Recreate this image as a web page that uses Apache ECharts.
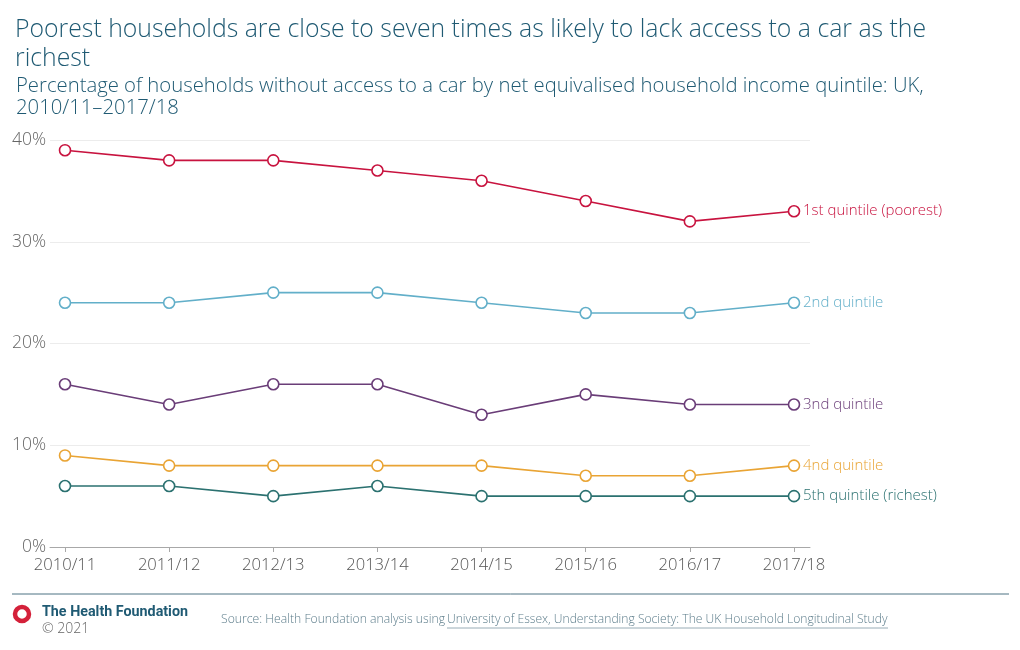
<!DOCTYPE html>
<html>
<head>
<meta charset="utf-8">
<script src="https://cdn.jsdelivr.net/npm/echarts@6/dist/echarts.min.js"></script>
<style>html,body{margin:0;padding:0;background:#fff;}#c{width:1020px;height:650px;}</style>
</head>
<body>
<div id="c"></div>
<script>
const categories = ['2010/11','2011/12','2012/13','2013/14','2014/15','2015/16','2016/17','2017/18'];
const q1 = [39,38,38,37,36,34,32,33];
const q2 = [24,24,25,25,24,23,23,24];
const q3 = [16,14,16,16,13,15,14,14];
const q4 = [9,8,8,8,8,7,7,8];
const q5 = [6,6,5,6,5,5,5,5];
const seriesNames = ['1st quintile (poorest)','2nd quintile','3nd quintile','4nd quintile','5th quintile (richest)'];
const seriesColors = ['#c8133f','#62afc9','#6a3d78','#e9a434','#2b7170'];
const yTicks = [0,10,20,30,40];

const FONT = '"Open Sans", Roboto, "Liberation Sans", sans-serif';
const chart = echarts.init(document.getElementById('c'), null, {renderer:'canvas'});
const data = [q1,q2,q3,q4,q5];
const series = data.map((d,i)=>({
  name: seriesNames[i], type:'line', xAxisIndex:1, yAxisIndex:1, data:d,
  symbol:'circle', symbolSize:11,
  itemStyle:{color:'#fff', borderColor:seriesColors[i], borderWidth:1.6},
  lineStyle:{color:seriesColors[i], width:1.6},
  endLabel:{show:true, formatter:'{a}', color:seriesColors[i], fontSize:15, fontWeight:300, fontFamily:FONT, distance:9},
  animation:false
}));
chart.setOption({
  backgroundColor:'#fff',
  animation:false,
  title:[
    {text:'Poorest households are close to seven times as likely to lack access to a car as the\nrichest', left:10, top:10,
     textStyle:{fontSize:24.8, fontWeight:300, color:'#1f5a73', fontFamily:FONT, lineHeight:29}},
    {text:'Percentage of households without access to a car by net equivalised household income quintile: UK,\n2010/11\u20132017/18', left:11, top:70,
     textStyle:{fontSize:20.3, fontWeight:300, color:'#1f5a73', fontFamily:FONT, lineHeight:22}}
  ],
  grid:[
    {left:50, right:210, top:140, bottom:103},
    {left:65, right:226, top:140, bottom:103}
  ],
  xAxis:[
    {gridIndex:0, type:'value', min:0, max:1, axisLine:{show:true, lineStyle:{color:'#a8a8a8'}}, axisTick:{show:false}, axisLabel:{show:false}, splitLine:{show:false}},
    {gridIndex:1, type:'category', data:categories, boundaryGap:false,
     axisLine:{show:false}, axisTick:{show:true, length:5, lineStyle:{color:'#a8a8a8'}},
     axisLabel:{color:'#555', fontSize:16.6, fontWeight:300, fontFamily:FONT, margin:10}, splitLine:{show:false}}
  ],
  yAxis:[
    {gridIndex:0, type:'value', min:0, max:40, interval:10,
     axisLine:{show:false}, axisTick:{show:false},
     axisLabel:{formatter:v=>yTicks.includes(v)?v+'%':'', color:'#666', fontSize:17.5, fontWeight:300, fontFamily:FONT, margin:4, padding:[4,0,0,0]},
     splitLine:{show:true, lineStyle:{color:'#ececec', width:1}}},
    {gridIndex:1, type:'value', min:0, max:40, interval:10, show:false}
  ],
  series: series,
  graphic:[
    {type:'line', shape:{x1:12,y1:594,x2:1009,y2:594}, style:{stroke:'#4d7383', lineWidth:1}},
    {type:'circle', shape:{cx:22, cy:614, r:7}, style:{fill:'none', stroke:'#d4213a', lineWidth:4.5}},
    {type:'text', left:42, top:605, style:{text:'The Health Foundation', fill:'#1f5a73', font:'bold 14.3px Roboto, sans-serif'}},
    {type:'text', left:42, top:622, style:{text:'\u00a9 2021', fill:'#666', font:'300 14px '+FONT}},
    {type:'text', left:221, top:614, style:{text:'Source: Health Foundation analysis using ', fill:'#5d7d8b', font:'300 12.2px '+FONT}},
    {type:'text', left:447, top:614, style:{text:'University of Essex, Understanding Society: The UK Household Longitudinal Study', fill:'#5d7d8b', font:'300 12.1px '+FONT}},
    {type:'line', shape:{x1:447,y1:628,x2:888,y2:628}, style:{stroke:'#7d97a3', lineWidth:0.8}}
  ]
});
</script>
</body>
</html>
